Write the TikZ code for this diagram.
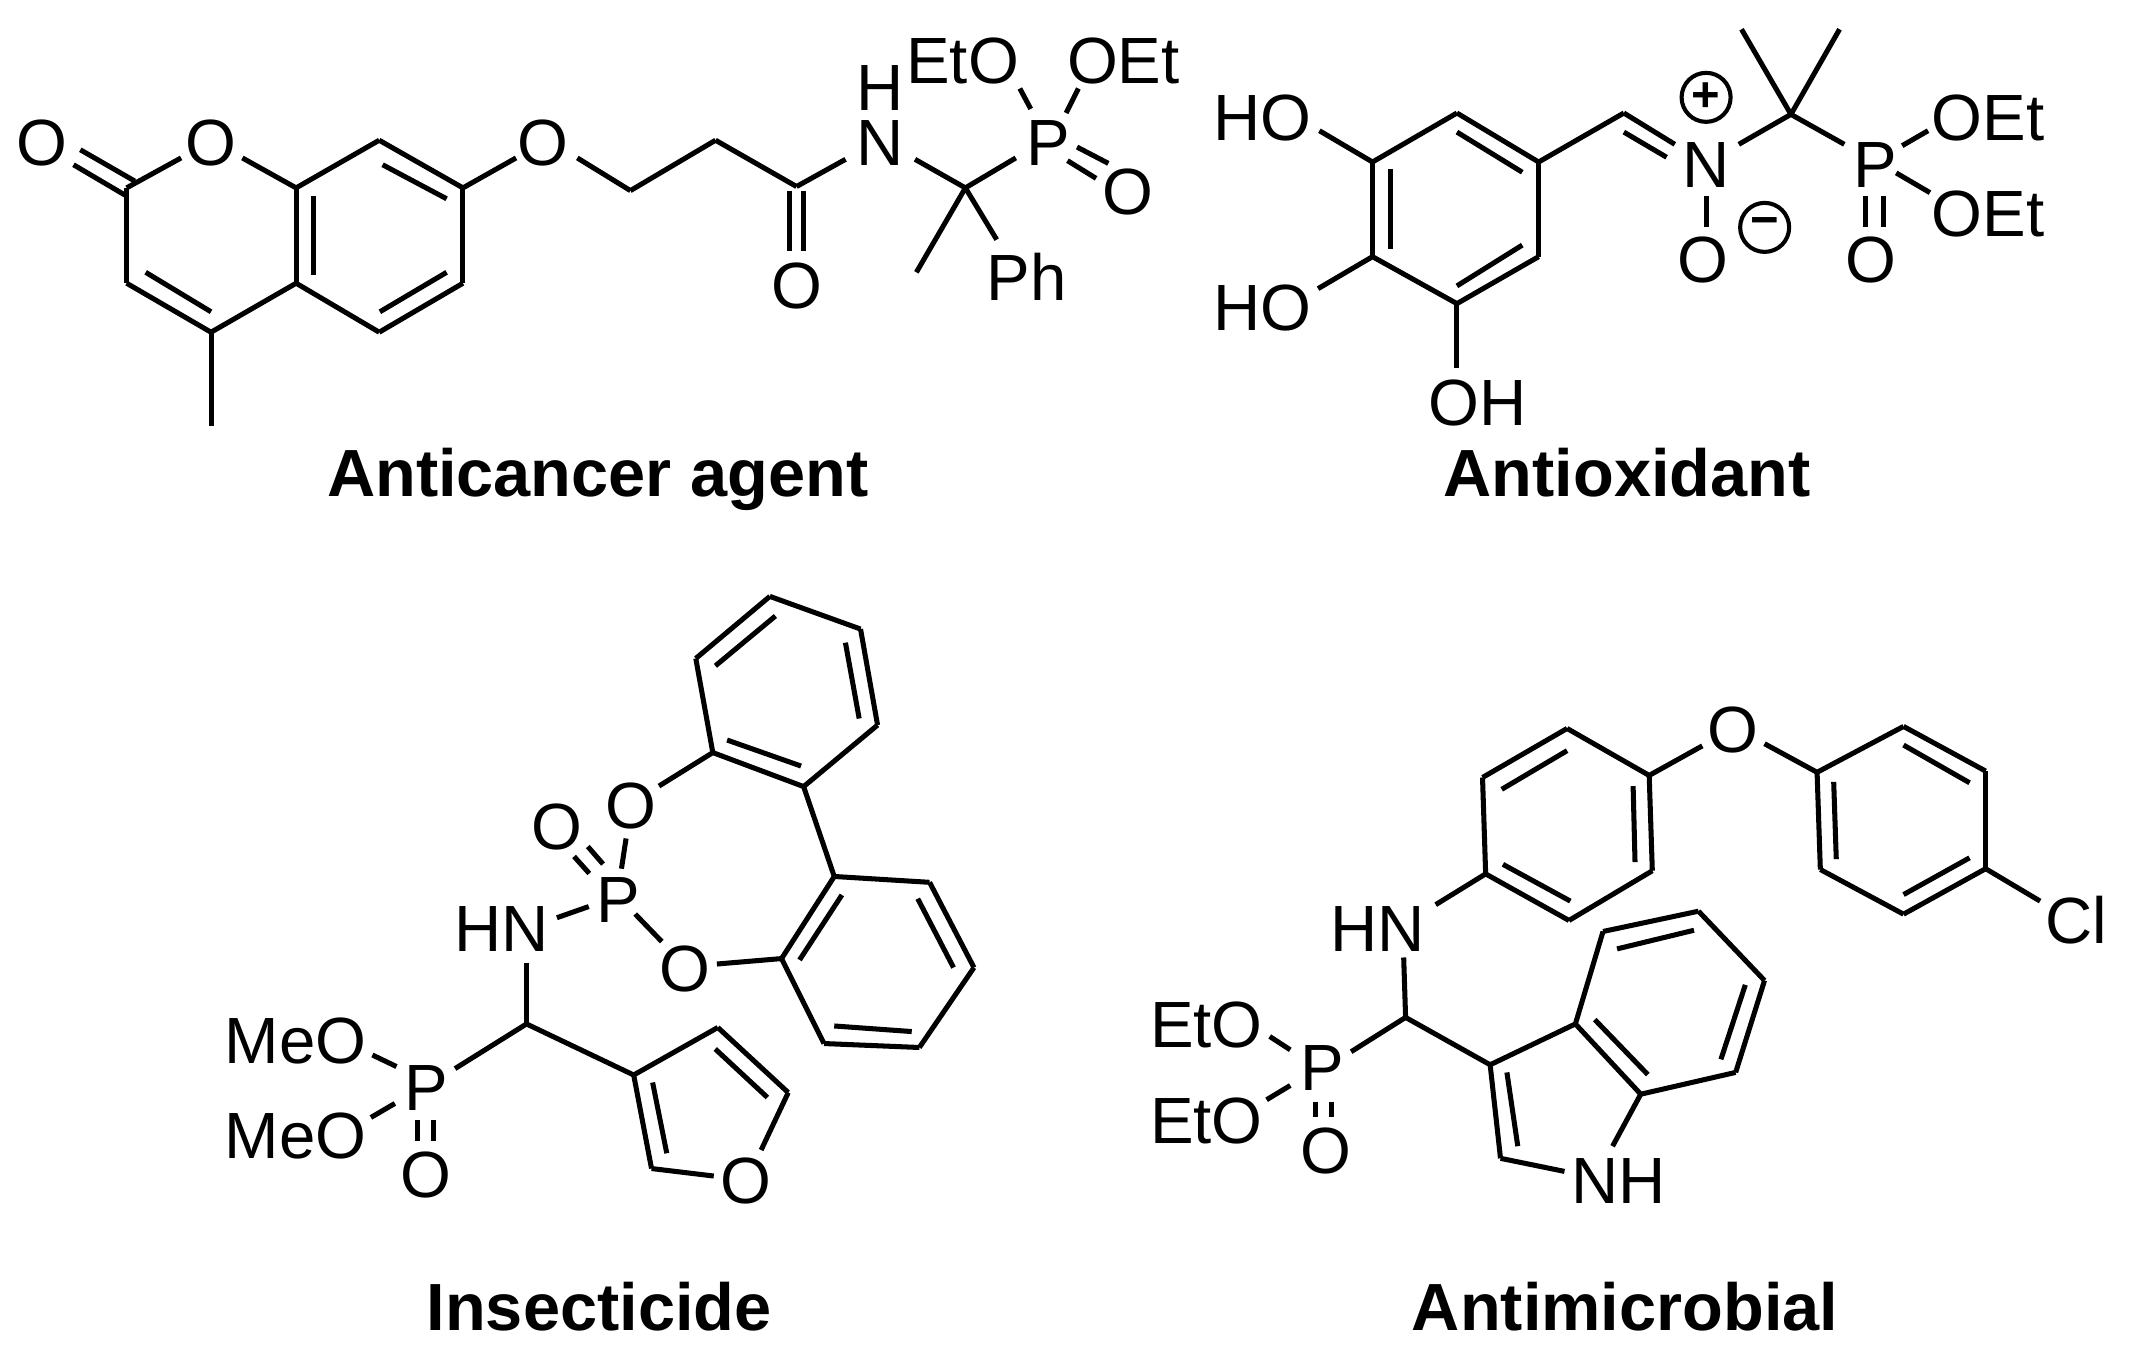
\documentclass[tikz,border=0pt]{standalone}
\usepackage{fontspec}
\setmainfont{Liberation Sans}
\tikzset{
  atomlab/.style={inner sep=0pt,anchor=center,font=\fontsize{48}{50}\selectfont},
  titlelab/.style={inner sep=0pt,anchor=base,font=\fontsize{49}{52}\selectfont\bfseries},
  chargelab/.style={circle,draw,line width=3pt,minimum size=36pt,inner sep=0pt,font=\fontsize{36}{36}\selectfont\bfseries},
  bondline/.style={line width=3.7pt,line join=miter,line cap=butt}
}
\newcommand{\pts}[1]{\foreach \n/\x/\y in {#1} {\coordinate (\n) at (\x,\y);}}
\newcommand{\bonds}[1]{\foreach \a/\b in {#1} {\draw[bondline] (\a) -- (\b);}}
\begin{document}
\begin{tikzpicture}[x=1pt,y=-1pt]
\useasboundingbox (0,0) rectangle (1568,1000);
\fill[white] (0,0) rectangle (1568,1000);

% ---------- Anticancer agent ----------
\pts{c2/93/138, c3/93/208, c4/155/244, c4a/217.5/208, c8a/217.5/138, c8/278.5/103, c7/340/138, c6/340/208, c5/278.5/244,
 me1/155/313, o1a/133/116, o1b/178/116,
 oxa/59/110, oxb/99/133, oxc/54/121, oxd/93/144,
 i1a/107/200, i1b/155/229, i2a/230/144, i2b/230/202, i3a/281/121, i3b/328/146, i4a/279/229, i4b/328/200,
 oc7/379/116, och/424/116, ch1/463/140, ch2/525.5/103, co/585/137, nb/621/117,
 cda/580/140, cdb/580/184, cdc/590/140, cdd/590/184,
 nc/672/117, cq/709/138, cqp/746/116, cqme/673/200, cqph/732/176,
 pa/757/80, pb/749/65, pc/783/83, pd/792/65,
 poa/791/108, pob/814/120, poc/784/118, pod/805/131}
\bonds{c2/c3, c3/c4, c4/c4a, c4a/c8a, c8a/c8, c8/c7, c7/c6, c6/c5, c5/c4a, c4/me1, c2/o1a, o1b/c8a,
 oxa/oxb, oxc/oxd, i1a/i1b, i2a/i2b, i3a/i3b, i4a/i4b, c7/oc7, och/ch1, ch1/ch2, ch2/co, co/nb,
 cda/cdb, cdc/cdd, nc/cq, cq/cqp, cq/cqme, cq/cqph, pa/pb, pc/pd, poa/pob, poc/pod}
\node[atomlab] (ao1) at (31,105) {O};
\node[atomlab] (ao2) at (155,105) {O};
\node[atomlab] (ao3) at (399,105) {O};
\node[atomlab] (ao4) at (585,210) {O};
\node[atomlab] (an1) at (646,105) {N};
\node[atomlab] (ah1) at (646,65) {H};
\node[atomlab] (ap1) at (770,105) {P};
\node[atomlab] (aeto) at (707,45) {EtO};
\node[atomlab] (aoet) at (825,45) {OEt};
\node[atomlab] (ao5) at (828,141) {O};
\node[atomlab] (aph) at (754,203) {Ph};
\node[titlelab] (t1) at (439,365) {Anticancer agent};

% ---------- Antioxidant ----------
\pts{ra/1008/119, rb/1070/83, rc/1130/119, rd/1130/188.5, re/1070/223, rf/1008/188.5,
 hoa/969/96, hob/968/212, ohb/1070/270.5,
 cha/1192.6/83, nda/1230/106, ndb/1192.6/97, ndc/1224/115.5,
 noa/1253/144, nob/1253/166.5, ncb/1277/106, cqq/1315.3/84, mea/1279/21.5, meb/1351/21.5, cpb/1354.5/106,
 p2a/1397/107, p2b/1416/96, p2c/1392.6/127, p2d/1417.4/141.5,
 pda/1370/144, pdb/1370/166.5, pdc/1383.6/144, pdd/1383.6/166.5,
 j1a/1021/124, j1b/1021/183, j2a/1070/97, j2b/1118/126.5, j3a/1070/210, j3b/1118/180}
\bonds{ra/rb, rb/rc, rc/rd, rd/re, re/rf, rf/ra, ra/hoa, rf/hob, re/ohb, rc/cha, cha/nda, ndb/ndc, noa/nob, ncb/cqq,
 cqq/mea, cqq/meb, cqq/cpb, p2a/p2b, p2c/p2d, pda/pdb, pdc/pdd, j1a/j1b, j2a/j2b, j3a/j3b}
\node[atomlab] (bho1) at (927,87) {HO};
\node[atomlab] (bho2) at (927,226) {HO};
\node[atomlab] (boh) at (1085,296) {OH};
\node[atomlab] (bn) at (1253,121) {N};
\node[atomlab] (bo1) at (1251,191) {O};
\node[atomlab] (bp) at (1377,121) {P};
\node[atomlab] (bo2) at (1374,191) {O};
\node[atomlab] (boet1) at (1460,87) {OEt};
\node[atomlab] (boet2) at (1460,157) {OEt};
\node[chargelab] (bplus) at (1253,71.5) {+};
\node[chargelab] (bminus) at (1296,167) {−};
\node[titlelab] (t2) at (1195,365) {Antioxidant};

% ---------- Insecticide ----------
\pts{ua/565.4/438, ub/632/462, uc/644.5/532.5, ud/590.2/577.7, ue/523.5/552.7, uf/511/483.6,
 k1a/525.4/489, k1b/569.5/452.4, k2a/620.9/472, k2b/631/527.7, k3a/534/543.5, k3b/588.3/562.6,
 eo/484/577.3, poa2/459.8/615.8, poa3/456.4/638,
 dba/421.6/629, dbb/432.8/641.5, dbc/431.7/621.7, dbd/442.9/634.6,
 hna/409/674, hnb/432.4/665.8, plo/466.5/671.3, plp/486/691.5, olo/526.5/708,
 lg/612.7/643.7, lh/682.7/648, li/715.3/710.6, lj/675.2/769.3, lk/605.2/766.4, ll/574/704,
 m1a/618.3/657.3, m1b/587.2/705, m2a/674/660, m2b/700.3/710.6, m3a/669.6/757.6, m3b/612.7/753.5,
 nch/386.7/707, chc/386.7/752, chp/334.2/784.8,
 mo1a/291.2/783.3, mo1b/273.5/774.8, mo2a/290/810.4, mo2b/272.4/820.7,
 qda/306.9/822.6, qdb/306.9/838, qdc/318.1/822.6, qdd/318.1/838,
 fa/465.4/789.5, fb/527.2/754.6, fc/578.9/802.4, fco/559/844.6, foe/524.2/863.7, fe/478.5/858.2,
 n1a/479.3/795, n1b/489.7/847, n2a/525.3/770.4, n2b/563.6/806}
\bonds{ua/ub, ub/uc, uc/ud, ud/ue, ue/uf, uf/ua, k1a/k1b, k2a/k2b, k3a/k3b, ue/eo, poa2/poa3, dba/dbb, dbc/dbd, hna/hnb, plo/plp, olo/ll,
 ud/lg, lg/lh, lh/li, li/lj, lj/lk, lk/ll, ll/lg, m1a/m1b, m2a/m2b, m3a/m3b, nch/chc, chc/chp, mo1a/mo1b, mo2a/mo2b, qda/qdb, qdc/qdd,
 chc/fa, fa/fb, fb/fc, fc/fco, foe/fe, fe/fa, n1a/n1b, n2a/n2b}
\node[atomlab] (co1) at (463.5,592) {O};
\node[atomlab] (co2) at (409.2,607) {O};
\node[atomlab] (cp1) at (454.2,661) {P};
\node[atomlab] (chn) at (368.5,682) {HN};
\node[atomlab] (co3) at (502.9,711.7) {O};
\node[atomlab] (cp2) at (312.9,798.7) {P};
\node[atomlab] (cmeo1) at (217,764.6) {MeO};
\node[atomlab] (cmeo2) at (217,834) {MeO};
\node[atomlab] (co4) at (312.9,863) {O};
\node[atomlab] (co5) at (547.8,867.7) {O};
\node[titlelab] (t3) at (440,977.5) {Insecticide};

% ---------- Antimicrobial ----------
\pts{sa/1150.9/535, sb/1211.2/569.5, sc/1213.5/639.5, sd/1152.3/676, se/1091.1/641.8, sf/1088.8/571,
 w1a/1102.9/579.7, w1b/1150.9/551.3, w2a/1199.4/577.4, w2b/1200.8/633.2, w3a/1153.3/661.8, w3b/1103.8/634.8,
 bo/1250.2/547.8, ogr/1295.9/546.2,
 tg/1334.5/567.2, th/1398/533.5, ti/1458.3/566.3, tj/1458.3/638, tk/1398/671.4, tl/1336.9/638.6,
 y1a/1346.7/574.2, y1b/1348.6/631, y2a/1398/547.2, y2b/1446.5/574.9, y3a/1446.5/630, y3b/1398/657,
 jcl/1498.3/661.8, ehn/1054.4/664.4, hnc/1030.9/703.2, chd/1032.3/747.2, chq/992.3/772.4,
 eo1a/947.6/771, eo1b/932.5/761.2, eo2a/947.6/797.2, eo2b/930.2/807.7,
 rda/966.4/809, rdb/966.4/820.5, rdc/978.2/809, rdd/978.2/820.5,
 cthree/1094.4/782, cthreea/1157/752, csevena/1205/803.6, cfour/1177.3/684.1, cfive/1247.4/669.2, csix/1295.9/720.1, cseven/1274.7/787.6,
 ctwo/1102/850.7, cnn/1149/860.3, nsev/1184.3/841.8,
 z1a/1106.7/787.6, z1b/1114.7/841.8, z2a/1171.2/748.8, z2b/1210.2/789.2, z3a/1187.6/696.9, z3b/1244.1/683.2, z4a/1281.8/723.3, z4b/1263.9/778}
\bonds{sa/sb, sb/sc, sc/sd, sd/se, se/sf, sf/sa, w1a/w1b, w2a/w2b, w3a/w3b, sb/bo, ogr/tg,
 tg/th, th/ti, ti/tj, tj/tk, tk/tl, tl/tg, y1a/y1b, y2a/y2b, y3a/y3b, tj/jcl, se/ehn, hnc/chd, chd/chq, eo1a/eo1b, eo2a/eo2b, rda/rdb, rdc/rdd,
 chd/cthree, cthree/cthreea, cthreea/csevena, cthreea/cfour, cfour/cfive, cfive/csix, csix/cseven, cseven/csevena, cthree/ctwo, ctwo/cnn, nsev/csevena,
 z1a/z1b, z2a/z2b, z3a/z3b, z4a/z4b}
\node[atomlab] (do1) at (1272.4,536) {O};
\node[atomlab] (dcl) at (1525,675.5) {Cl};
\node[atomlab] (dhn) at (1012,682) {HN};
\node[atomlab] (dp) at (971.1,784.5) {P};
\node[atomlab] (deto1) at (886,753) {EtO};
\node[atomlab] (deto2) at (886,823) {EtO};
\node[atomlab] (do2) at (973.5,845) {O};
\node[atomlab] (dnh) at (1189,867.3) {NH};
\node[titlelab] (t4) at (1193.5,977.5) {Antimicrobial};
\end{tikzpicture}
\end{document}
